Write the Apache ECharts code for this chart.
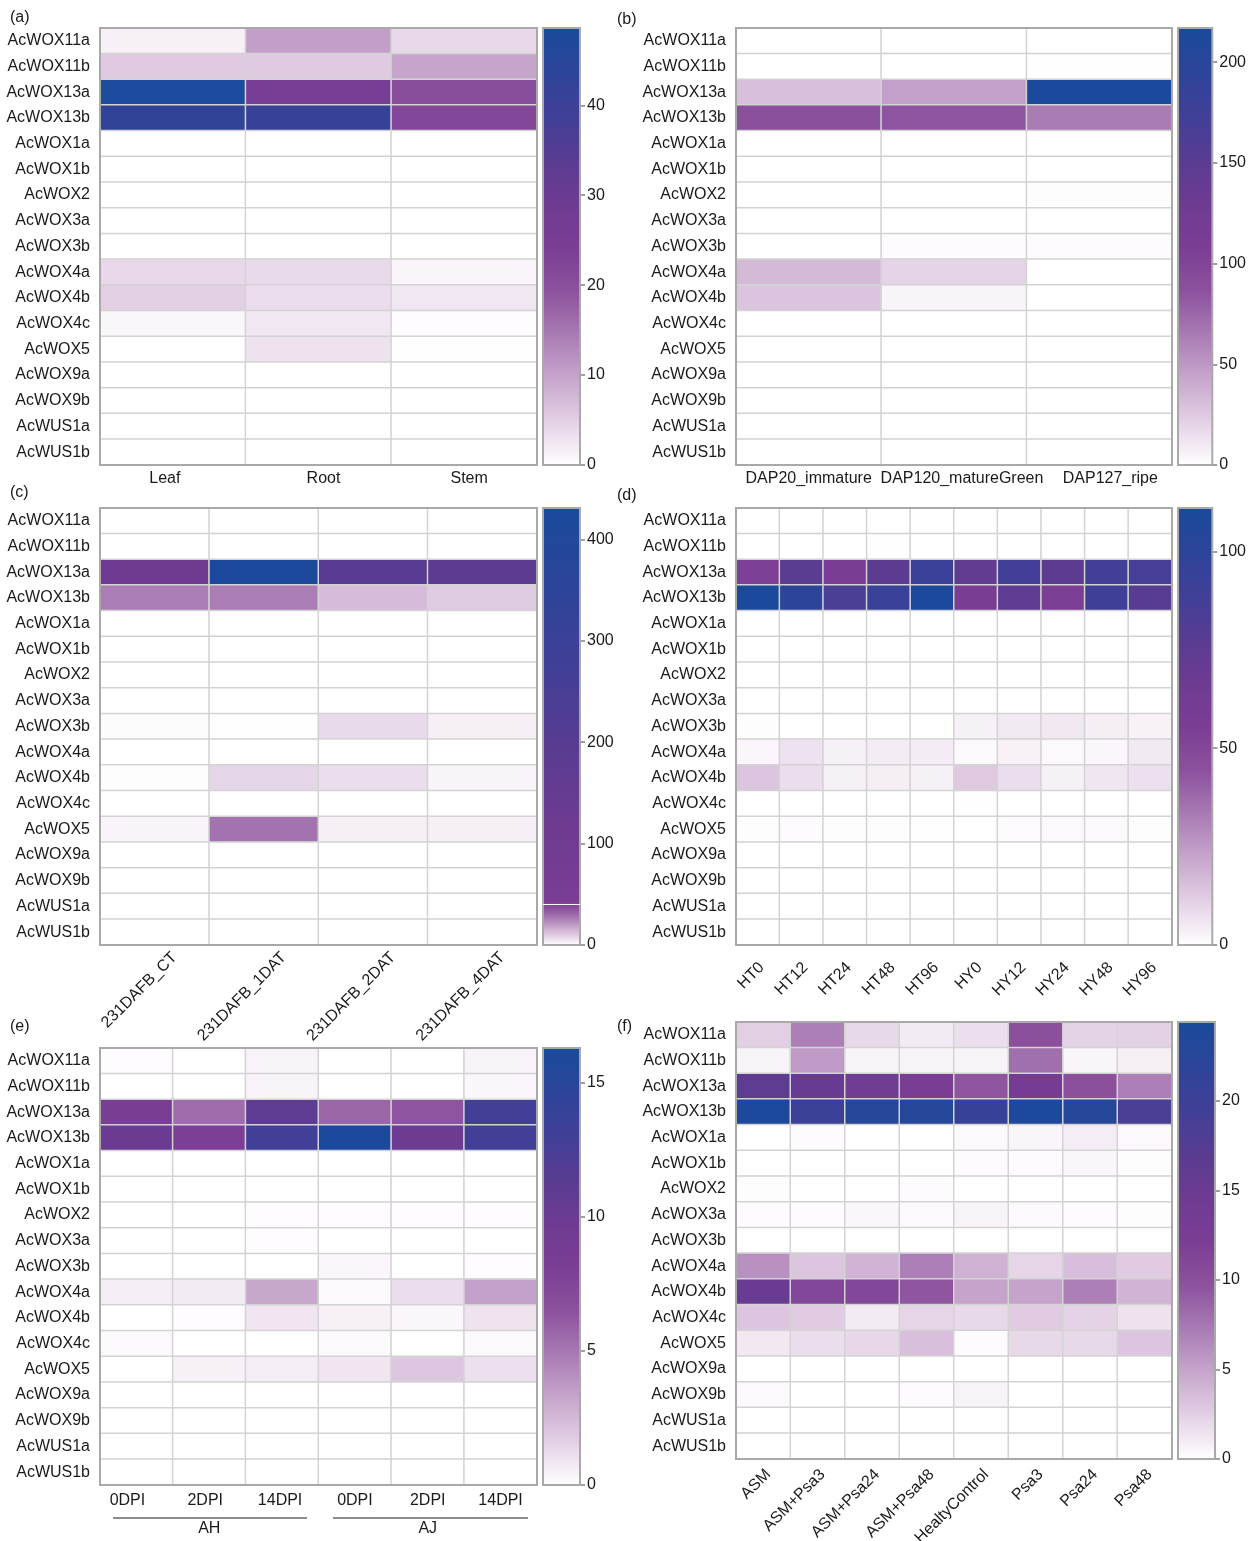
<!DOCTYPE html>
<html>
<head>
<meta charset="utf-8">
<script src="https://cdn.jsdelivr.net/npm/echarts@6/dist/echarts.min.js"></script>
<style>
  html, body { margin: 0; background: #fff; }
  #chart { width: 1249px; height: 1541px; }
</style>
</head>
<body>
<div id="chart"></div>
<script>
// rows, top to bottom
const genes = ['AcWOX11a', 'AcWOX11b', 'AcWOX13a', 'AcWOX13b', 'AcWOX1a', 'AcWOX1b', 'AcWOX2', 'AcWOX3a', 'AcWOX3b',
  'AcWOX4a', 'AcWOX4b', 'AcWOX4c', 'AcWOX5', 'AcWOX9a', 'AcWOX9b', 'AcWUS1a', 'AcWUS1b']

// (a) tissues
const tissueCols = ['Leaf', 'Root', 'Stem']
const tissueVals = [
  [1.5, 10.5, 4], [5.5, 5.5, 9.8], [48, 25, 20.5], [43, 41, 22], [0, 0, 0], [0, 0, 0], [0, 0, 0], [0, 0, 0], [0, 0, 0],
  [4, 3.8, 1], [5, 3.5, 2.5], [0.8, 2.5, 0.3], [0, 3, 0.1], [0, 0, 0], [0, 0, 0], [0, 0, 0], [0, 0, 0]
]
const tissueTicks = [0, 10, 20, 30, 40]

// (b) fruit development
const fruitCols = ['DAP20_immature', 'DAP120_matureGreen', 'DAP127_ripe']
const fruitVals = [
  [0, 0, 0], [0, 0, 0.3], [30, 46, 215], [89, 85, 64], [0, 0, 0], [0, 0, 0], [0, 0, 1], [0, 0, 0], [0, 2, 2],
  [33, 20, 0], [28, 5, 0], [0, 0, 0], [0, 0, 0], [0, 0, 0], [0, 0, 0], [0, 0, 0], [0, 0, 0]
]
const fruitTicks = [0, 50, 100, 150, 200]

// (c) after treatment
const treatCols = ['231DAFB_CT', '231DAFB_1DAT', '231DAFB_2DAT', '231DAFB_4DAT']
const treatVals = [
  [0, 0, 0, 0], [0, 0, 0, 0], [110, 420, 195, 185], [26, 26, 13, 10], [0, 0, 0, 0], [0, 0, 0, 0], [0, 0, 0, 0],
  [0, 0, 0, 0], [0.5, 0.2, 7, 3], [0, 0, 0, 0], [0.3, 8, 6.5, 2], [0, 0, 0, 0], [2, 28, 3, 3],
  [0, 0, 0, 0], [0, 0, 0, 0], [0, 0, 0, 0], [0, 0, 0, 0]
]
const treatTicks = [0, 100, 200, 300, 400]
const treatBreak = 40

// (d) heat stress
const heatCols = ['HT0', 'HT12', 'HT24', 'HT48', 'HT96', 'HY0', 'HY12', 'HY24', 'HY48', 'HY96']
const heatVals = [
  [0, 0, 0, 0, 0, 0, 0, 0, 0, 0],
  [0, 0, 0, 0.3, 0, 0, 0, 0, 0, 0],
  [54, 77, 56, 76, 92, 72, 89, 76, 89, 86],
  [110, 100, 84, 93, 109, 56, 74, 55, 90, 78],
  [0, 0, 0, 0, 0, 0, 0, 0, 0, 0],
  [0, 0, 0, 0, 0, 0, 0, 0, 0, 0],
  [0, 0, 0, 0, 0, 0, 0, 0, 0, 0],
  [0, 0, 0, 0, 0, 0, 0, 0, 0, 0],
  [0.5, 0, 0, 0, 0, 3.5, 5, 5.5, 4, 3],
  [2, 7, 3.5, 4.5, 4.5, 1.5, 3, 1.5, 2, 5],
  [14, 8, 3.5, 4, 3.5, 13, 8, 3.5, 6, 7.5],
  [0, 0, 0, 0, 0, 0.3, 0, 0, 0, 0],
  [0.5, 1, 0.5, 0.5, 0.3, 0, 1, 1.5, 1.5, 0.5],
  [0, 0, 0, 0, 0, 0, 0, 0, 0, 0],
  [0, 0, 0, 0, 0, 0, 0, 0, 0, 0],
  [0, 0, 0, 0, 0, 0, 0, 0, 0, 0],
  [0, 0, 0, 0, 0, 0, 0, 0, 0, 0]
]
const heatTicks = [0, 50, 100]

// (e) infection, two groups
const infCols = ['0DPI', '2DPI', '14DPI', '0DPI', '2DPI', '14DPI']
const infGroups = ['AH', 'AJ']
const infVals = [
  [0.1, 0, 0.4, 0, 0, 0.4], [0, 0, 0.4, 0, 0, 0.3], [8.2, 5.5, 11, 5.7, 6.4, 13], [10, 8, 13, 16, 9.8, 13],
  [0, 0, 0, 0, 0, 0], [0, 0, 0, 0, 0, 0], [0, 0, 0.1, 0.1, 0.1, 0.1], [0, 0, 0.1, 0, 0, 0], [0, 0, 0, 0.3, 0, 0.1],
  [0.6, 0.7, 3.2, 0.2, 1.2, 3.4], [0, 0.1, 0.9, 0.5, 0.3, 1], [0.2, 0, 0, 0.2, 0, 0.2], [0, 0.5, 0.6, 0.9, 2, 1.1],
  [0, 0, 0, 0, 0, 0], [0, 0, 0, 0, 0, 0], [0, 0, 0, 0, 0, 0], [0, 0, 0, 0, 0, 0]
]
const infTicks = [0, 5, 10, 15]

// (f) defence
const defCols = ['ASM', 'ASM+Psa3', 'ASM+Psa24', 'ASM+Psa48', 'HealtyControl', 'Psa3', 'Psa24', 'Psa48']
const defVals = [
  [2.5, 7, 2, 1, 1.7, 10, 2.3, 2.4],
  [0.6, 5.5, 0.6, 0.6, 0.6, 8, 0.5, 0.8],
  [16.5, 15.5, 14, 12.5, 9.5, 13, 10, 7],
  [24, 20, 23, 23, 20.5, 24, 23, 18.5],
  [0, 0.2, 0, 0, 0.3, 0.5, 0.9, 0.3],
  [0, 0, 0, 0, 0.2, 0.2, 0.4, 0.1],
  [0.1, 0, 0, 0.2, 0, 0, 0, 0],
  [0.2, 0.2, 0.4, 0.3, 0.6, 0.3, 0.2, 0.1],
  [0, 0, 0, 0, 0, 0, 0, 0],
  [6, 3, 4, 7, 4.2, 2.2, 3.5, 2.7],
  [15, 11, 11, 9.5, 5, 5, 7, 4],
  [3, 2.7, 1, 2.2, 2, 2.7, 2.3, 1.5],
  [1.2, 1.8, 2.1, 3.4, 0.2, 2, 2, 3],
  [0, 0, 0, 0, 0, 0, 0, 0],
  [0.3, 0, 0, 0.2, 0.6, 0, 0, 0],
  [0, 0, 0, 0, 0, 0, 0, 0],
  [0, 0, 0, 0, 0, 0, 0, 0]
]
const defTicks = [0, 5, 10, 15, 20]

const FONT = 'Liberation Sans, Arial, sans-serif'
const ramp = [
  [0, '#ffffff'], [0.1, '#e3d0e5'], [0.2, '#c7a5cc'], [0.3, '#a87ab3'], [0.4, '#8c519d'], [0.5, '#7a3d94'],
  [0.6, '#6e3b92'], [0.7, '#583c91'], [0.8, '#413f97'], [0.9, '#2c4499'], [1, '#1a4a9c']
]

function hexRgb(h) {
  return [parseInt(h.slice(1, 3), 16), parseInt(h.slice(3, 5), 16), parseInt(h.slice(5, 7), 16)]
}
function rampColor(t) {
  t = Math.max(0, Math.min(1, t))
  for (let i = 1; i < ramp.length; i++) {
    if (t <= ramp[i][0]) {
      const a = hexRgb(ramp[i - 1][1]), b = hexRgb(ramp[i][1])
      const k = (t - ramp[i - 1][0]) / (ramp[i][0] - ramp[i - 1][0])
      return 'rgb(' + a.map((c, j) => Math.round(c + (b[j] - c) * k)).join(',') + ')'
    }
  }
  return ramp[ramp.length - 1][1]
}
function colorList(max, warp) {
  const n = 120
  const list = []
  for (let i = 0; i <= n; i++) {
    const v = i / n * max
    list.push(rampColor(warp ? warp(v) : v / max))
  }
  return list
}
// nudge individual category labels sideways (px, + = right)
function nudged(cols, shifts) {
  if (!shifts) return cols
  return cols.map((c, k) => ({
    value: c,
    textStyle: { padding: shifts[k] >= 0 ? [0, 0, 0, 2 * shifts[k]] : [0, -2 * shifts[k], 0, 0] }
  }))
}

const panels = [
  { tag: '(a)', cols: tissueCols, vals: tissueVals, max: 48.6, ticks: tissueTicks, left: 100, top: 28, width: 437,
    margin: 6, shifts: [-8, 5, 5] },
  { tag: '(b)', cols: fruitCols, vals: fruitVals, max: 217, ticks: fruitTicks, left: 736, top: 28, width: 436,
    margin: 6, shifts: [0, 8, 11] },
  { tag: '(c)', cols: treatCols, vals: treatVals, max: 431, ticks: treatTicks, left: 100, top: 508, width: 437,
    slant: [20, 10],
    warp: v => v < treatBreak ? v / treatBreak * 0.45 : 0.5 + (v - treatBreak) / (431 - treatBreak) * 0.5 },
  { tag: '(d)', cols: heatCols, vals: heatVals, max: 111, ticks: heatTicks, left: 736, top: 508, width: 436,
    slant: [4, 20] },
  { tag: '(e)', cols: infCols, vals: infVals, max: 16.3, ticks: infTicks, left: 100, top: 1048, width: 437,
    margin: 8, shifts: [-9, -4, -2, 0, 0, 0] },
  { tag: '(f)', cols: defCols, vals: defVals, max: 24.4, ticks: defTicks, left: 736, top: 1022, width: 436,
    slant: [5, 13] }
]
const tagPos = [[10, 10], [617, 12], [10, 485], [617, 488], [10, 1019], [617, 1019]]
const H = 437

const grid = [], xAxis = [], yAxis = [], series = [], visualMap = [], graphic = []

panels.forEach((p, i) => {
  const colors = colorList(p.max, p.warp)
  // heatmap
  const gi = grid.length
  grid.push({ left: p.left, top: p.top, width: p.width, height: H, show: true, borderColor: '#a9a9a9', borderWidth: 2, z: 5 })
  p.xi = xAxis.length
  xAxis.push({
    type: 'category', gridIndex: gi, data: nudged(p.cols, p.shifts), position: 'bottom',
    axisLine: { show: false }, axisTick: { show: false }, splitLine: { show: false },
    axisLabel: {
      show: !p.slant, interval: 0, margin: p.margin, fontSize: 16, color: '#1a1a1a', fontFamily: FONT
    }
  })
  const yi = yAxis.length
  yAxis.push({
    type: 'category', gridIndex: gi, data: genes, inverse: true,
    axisLine: { show: false }, axisTick: { show: false }, splitLine: { show: false },
    axisLabel: { interval: 0, margin: 10, fontSize: 16, color: '#1a1a1a', fontFamily: FONT }
  })
  const data = []
  p.vals.forEach((row, r) => row.forEach((v, c) => data.push([c, r, v])))
  const si = series.length
  series.push({
    type: 'heatmap', xAxisIndex: p.xi, yAxisIndex: yi, data: data, silent: true,
    itemStyle: { borderColor: '#d3d3d3', borderWidth: 1.5 }
  })
  visualMap.push({ type: 'continuous', show: false, seriesIndex: si, min: 0, max: p.max, inRange: { color: colors } })

  // colour bar
  const cbLeft = p.left + p.width + 6
  const cg = grid.length
  grid.push({ left: cbLeft, top: p.top, width: 37, height: H, show: true, borderColor: '#a9a9a9', borderWidth: 2, z: 5 })
  const cx = xAxis.length
  xAxis.push({ type: 'category', gridIndex: cg, data: [''], show: false })
  const cyR = yAxis.length
  yAxis.push({
    type: 'value', gridIndex: cg, min: 0, max: p.max, position: 'right',
    axisLine: { show: false }, splitLine: { show: false },
    axisTick: { show: true, customValues: p.ticks, length: 5, lineStyle: { color: '#a0a0a0', width: 2 } },
    axisLabel: { customValues: p.ticks, margin: 7, fontSize: 16, color: '#1a1a1a', fontFamily: FONT }
  })
  yAxis.push({
    type: 'value', gridIndex: cg, min: 0, max: p.max, position: 'left',
    axisLine: { show: false }, splitLine: { show: false }, axisLabel: { show: false },
    axisTick: { show: true, inside: true, customValues: p.ticks, length: 5, lineStyle: { color: '#a0a0a0', width: 2 } }
  })
  const bar = {
    type: 'bar', xAxisIndex: cx, yAxisIndex: cyR, data: [p.max], barWidth: '100%', silent: true,
    itemStyle: {
      color: {
        type: 'linear', x: 0, y: 1, x2: 0, y2: 0,
        colorStops: colors.map((c, k) => ({ offset: k / (colors.length - 1), color: c }))
      }
    }
  }
  if (p.warp) {
    bar.markLine = {
      silent: true, symbol: 'none', label: { show: false },
      lineStyle: { color: '#ffffff', width: 1, type: 'solid' },
      data: [{ yAxis: treatBreak }]
    }
  }
  series.push(bar)

  graphic.push({
    type: 'text', id: 'tag' + i, left: tagPos[i][0], top: tagPos[i][1],
    style: { text: p.tag, font: '16px ' + FONT, fill: '#1a1a1a' }
  })
})

// group axis for (e)
const eGrid = 8
xAxis.push({
  type: 'category', gridIndex: eGrid, data: infGroups, position: 'bottom', offset: 30,
  axisLine: { show: false }, axisTick: { show: false },
  axisLabel: { fontSize: 16, color: '#1a1a1a', fontFamily: FONT, margin: 6 }
})
const eL = panels[4].left, eY = panels[4].top + H + 33
graphic.push(
  { type: 'line', id: 'ah', shape: { x1: eL + 13, y1: eY, x2: eL + 207, y2: eY }, style: { stroke: '#1a1a1a', lineWidth: 1 } },
  { type: 'line', id: 'aj', shape: { x1: eL + 233, y1: eY, x2: eL + 428, y2: eY }, style: { stroke: '#1a1a1a', lineWidth: 1 } }
)

const chart = echarts.init(document.getElementById('chart'))
chart.setOption({
  animation: false,
  backgroundColor: '#ffffff',
  textStyle: { fontFamily: FONT },
  grid, xAxis, yAxis, series, visualMap, graphic
})

// slanted column labels, placed from the category axis positions
panels.forEach((p, i) => {
  if (!p.slant) return
  p.cols.forEach((c, k) => {
    const x = chart.convertToPixel({ xAxisIndex: p.xi }, k)
    graphic.push({
      type: 'text', id: 'lab' + i + '_' + k, x: x + p.slant[0], y: p.top + H + p.slant[1], rotation: Math.PI / 4,
      style: { text: c, x: 0, y: 0, align: 'right', verticalAlign: 'middle', font: '16px ' + FONT, fill: '#1a1a1a' }
    })
  })
})
chart.setOption({ graphic: graphic })
</script>
</body>
</html>
